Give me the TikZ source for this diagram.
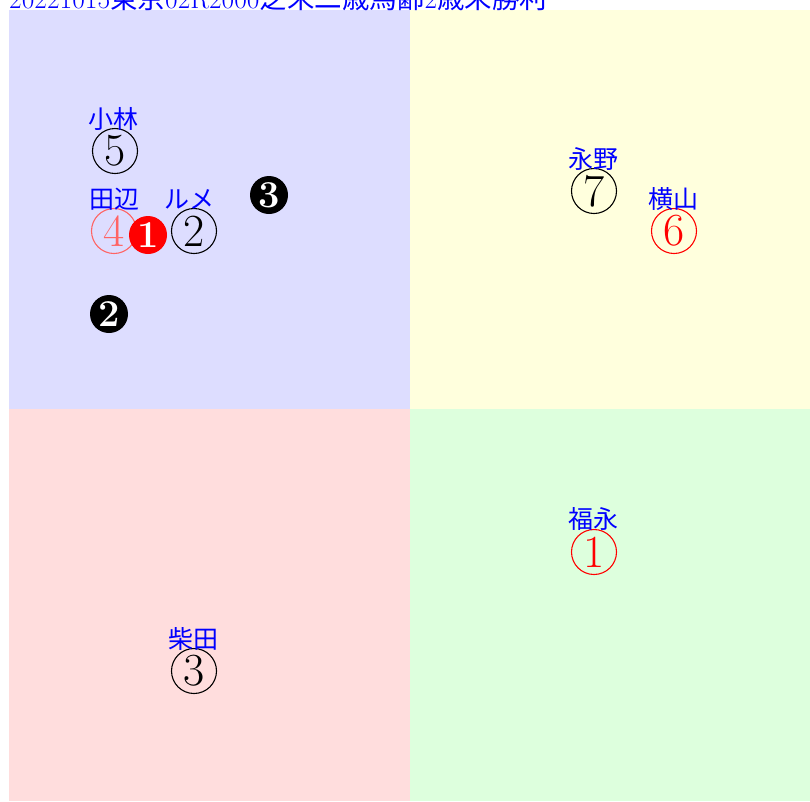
\documentclass[tikz,border=0pt]{standalone}
\usepackage{fontspec}
\newfontfamily\jp{Noto Sans CJK JP}
\definecolor{areaTL}{RGB}{221,221,255}
\definecolor{areaTR}{RGB}{255,255,221}
\definecolor{areaBL}{RGB}{255,221,221}
\definecolor{areaBR}{RGB}{221,255,221}
\definecolor{lightred}{RGB}{255,100,100}
\begin{document}
\begin{tikzpicture}[x=1pt, y=-1pt,
    horse/.style={circle, draw, inner sep=0pt, minimum size=45pt, line width=1.1pt,
        font=\fontsize{46}{46}\selectfont},
    pick/.style={circle, fill, inner sep=0pt, minimum size=38pt, text=white,
        font=\fontsize{38}{38}\selectfont\bfseries},
    rider/.style={text=blue, inner sep=0pt, font=\jp\fontsize{25}{25}\selectfont}]
    \useasboundingbox (0,0) rectangle (810,801);

    % 四象限
    \fill[areaTL] (9,10) rectangle (410,409);
    \fill[areaTR] (410,10) rectangle (810,409);
    \fill[areaBL] (9,409) rectangle (410,801);
    \fill[areaBR] (410,409) rectangle (810,801);

    % タイトル
    \node[anchor=base west, inner sep=0pt, text=blue, font=\fontsize{27.5}{27.5}\selectfont] (title) at (9,8)
        {20221015{\jp 東京}02R2000{\jp 芝未二歳馬齢}2{\jp 歳未勝利}};

    % 馬番と騎手
    \node[horse] (h5) at (115,151) {5};
    \node[rider] (r5) at (113,119) {小林};
    \node[horse, draw=lightred, text=lightred] (h4) at (114,231) {4};
    \node[rider] (r4) at (114,199) {田辺};
    \node[horse] (h2) at (194,231) {2};
    \node[rider] (r2) at (189,199) {ルメ};
    \node[horse] (h7) at (594,191) {7};
    \node[rider] (r7) at (593,159) {永野};
    \node[horse, draw=red, text=red] (h6) at (674,231) {6};
    \node[rider] (r6) at (673,199) {横山};
    \node[horse, draw=red, text=red] (h1) at (594,552) {1};
    \node[rider] (r1) at (593,519) {福永};
    \node[horse] (h3) at (194,671) {3};
    \node[rider] (r3) at (193,639) {柴田};

    % 予想
    \node[pick, fill=red] (p1) at (148,235) {1};
    \node[pick, fill=black] (p2) at (109,314) {2};
    \node[pick, fill=black] (p3) at (269,195) {3};
\end{tikzpicture}
\end{document}
